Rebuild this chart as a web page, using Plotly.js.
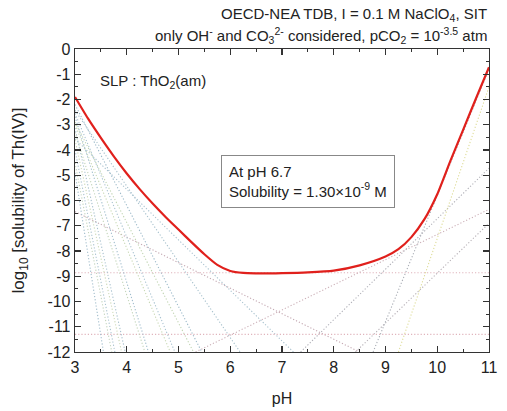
<!DOCTYPE html>
<html>
<head>
<meta charset="utf-8">
<script src="https://cdn.plot.ly/plotly-3.0.1.min.js"></script>
<style>html,body{margin:0;padding:0;background:#fff;}#chart{width:507px;height:411px;}</style>
</head>
<body>
<div id="chart"></div>
<script>
// Total solubility (red curve)
const totalPH  = [3.0, 3.25, 3.5, 3.75, 4.0, 4.25, 4.5, 4.75, 5.0, 5.25, 5.5, 5.75, 6.0, 6.25, 6.5, 6.75, 7.0, 7.5, 8.0, 8.5, 9.0, 9.25, 9.5, 9.75, 10.0, 10.25, 10.5, 10.75, 11.0];
const totalLog = [-1.9, -2.75, -3.52, -4.25, -4.93, -5.55, -6.12, -6.65, -7.15, -7.65, -8.13, -8.55, -8.79, -8.87, -8.885, -8.886, -8.88, -8.85, -8.78, -8.57, -8.22, -7.93, -7.45, -6.75, -5.75, -4.45, -3.2, -1.95, -0.72];

// Axis tick labels
const xTicks = [3, 4, 5, 6, 7, 8, 9, 10, 11];
const xTickText = ["3", "4", "5", "6", "7", "8", "9", "10", "11"];
const yTicks = [0, -1, -2, -3, -4, -5, -6, -7, -8, -9, -10, -11, -12];
const yTickText = ["0", "-1", "-2", "-3", "-4", "-5", "-6", "-7", "-8", "-9", "-10", "-11", "-12"];

// Individual species lines (endpoints)
const speciesNames = ["Th4+", "ThOH3+", "Th(OH)2 2+", "Th(OH)3+", "Th(OH)4(aq)", "Th(OH)2CO3(aq)",
  "Th4(OH)12 4+", "Th2(OH)3 5+", "Th2(OH)3 5+ b", "Th2(OH)2 6+", "Th2(OH)2 6+ b", "Th4(OH)8 8+", "Th4(OH)8 8+ b",
  "Th6(OH)15 9+", "Th6(OH)15 9+ b", "Th6(OH)14 10+",
  "Th(OH)3CO3-", "Th(OH)4CO3 2-", "Th(OH)2(CO3)2 2-", "Th(OH)(CO3)4 5-", "Th(CO3)5 6-"];
const speciesPH = [[3, 5.45], [3, 6.19], [3, 7.22], [3, 8.5], [3, 11], [3, 11],
  [3, 5.29], [3, 4.93], [3, 4.84], [3, 4.42], [3, 4.35], [3, 3.97], [3, 3.90],
  [3, 3.77], [3, 3.71], [3, 3.55],
  [5.33, 11], [7.36, 11], [8.42, 11], [8.76, 11], [9.25, 11]];
const speciesLog = [[-2.2, -12], [-2.43, -12], [-3.56, -12], [-6.44, -12], [-8.86, -8.86], [-11.3, -11.3],
  [-2.9, -12], [-2.55, -12], [-3.0, -12], [-2.68, -12], [-3.3, -12], [-3.13, -12], [-3.6, -12],
  [-4.0, -12], [-4.51, -12], [-4.9, -12],
  [-12, -6.35], [-12, -4.72], [-12, -6.9], [-12, -0.8], [-12, -1.5]];
const speciesColor = ["#9ab8c8", "#a6c0cc", "#a9c2cf", "#c4a8b2", "#e0b4bc", "#e0b4bc",
  "#bfd4b0", "#a8c2d0", "#c8d8b4", "#9fbccc", "#c2d4b8", "#a7c0cd", "#ccd8b6",
  "#a9c2cf", "#c4d4bc", "#a0bccb",
  "#ccb0b8", "#b0b0b8", "#b8b2b8", "#a8acb4", "#dedc98"];

const traces = [];
for (let i = 0; i < speciesNames.length; i++) {
  traces.push({
    x: speciesPH[i], y: speciesLog[i], name: speciesNames[i],
    mode: 'lines', type: 'scatter', showlegend: false, hoverinfo: 'skip',
    line: {color: speciesColor[i], width: 1.1, dash: '1.2px,2px'}
  });
}
traces.push({
  x: totalPH, y: totalLog, name: 'total', mode: 'lines', type: 'scatter',
  line: {color: '#e0201c', width: 2.2, shape: 'spline', smoothing: 0.6}, showlegend: false
});

const F = 'Liberation Sans, Arial, sans-serif';
const layout = {
  width: 507, height: 411,
  margin: {l: 75, r: 18, t: 49, b: 59},
  paper_bgcolor: '#fff', plot_bgcolor: '#fff',
  font: {family: F, size: 16, color: '#222'},
  showlegend: false,
  xaxis: {
    range: [3, 11], tickmode: 'array', tickvals: xTicks, ticktext: xTickText,
    showgrid: false, zeroline: false,
    showline: true, linecolor: '#333', linewidth: 1.3, mirror: 'ticks',
    ticks: 'inside', ticklen: 6, tickwidth: 1.3, tickcolor: '#333',
    minor: {dtick: 0.5, ticks: 'inside', ticklen: 3, tickcolor: '#333', tickwidth: 1},
    tickfont: {family: F, size: 16, color: '#222'},
    title: {text: 'pH', font: {family: F, size: 16, color: '#222'}, standoff: 18}
  },
  yaxis: {
    range: [-12, 0], tickmode: 'array', tickvals: yTicks, ticktext: yTickText,
    showgrid: false, zeroline: false,
    showline: true, linecolor: '#333', linewidth: 1.3, mirror: 'ticks',
    ticks: 'inside', ticklen: 6, tickwidth: 1.3, tickcolor: '#333',
    minor: {dtick: 0.5, ticks: 'inside', ticklen: 3, tickcolor: '#333', tickwidth: 1},
    tickfont: {family: F, size: 16, color: '#222'},
    title: {text: 'log<sub>10</sub> [solubility of Th(IV)]', font: {family: F, size: 17, color: '#222'}, standoff: 18}
  },
  annotations: [
    {xref: 'paper', yref: 'paper', x: 1.0, y: 1, yshift: 35, xanchor: 'right', yanchor: 'middle',
     text: 'OECD-NEA TDB, I = 0.1 M NaClO<sub>4</sub>, SIT', showarrow: false,
     font: {family: F, size: 15, color: '#222'}},
    {xref: 'paper', yref: 'paper', x: 1.0, y: 1, yshift: 14, xanchor: 'right', yanchor: 'middle',
     text: 'only OH<sup>-</sup> and CO<sub>3</sub><sup>2-</sup> considered, pCO<sub>2</sub> = 10<sup>-3.5</sup> atm', showarrow: false,
     font: {family: F, size: 15, color: '#222'}},
    {xref: 'x', yref: 'y', x: 3.45, y: -1.3, xanchor: 'left', yanchor: 'middle',
     text: 'SLP : ThO<sub>2</sub>(am)', showarrow: false, font: {family: F, size: 15, color: '#222'}},
    {xref: 'x', yref: 'y', x: 5.82, y: -5.25, xanchor: 'left', yanchor: 'middle', align: 'left',
     text: 'At pH 6.7<br>Solubility = 1.30×10<sup>-9</sup> M', showarrow: false,
     bordercolor: '#888', borderwidth: 1, borderpad: 7, bgcolor: '#fff',
     font: {family: F, size: 15, color: '#222'}}
  ]
};
Plotly.newPlot('chart', traces, layout, {staticPlot: true, displayModeBar: false});
</script>
</body>
</html>
